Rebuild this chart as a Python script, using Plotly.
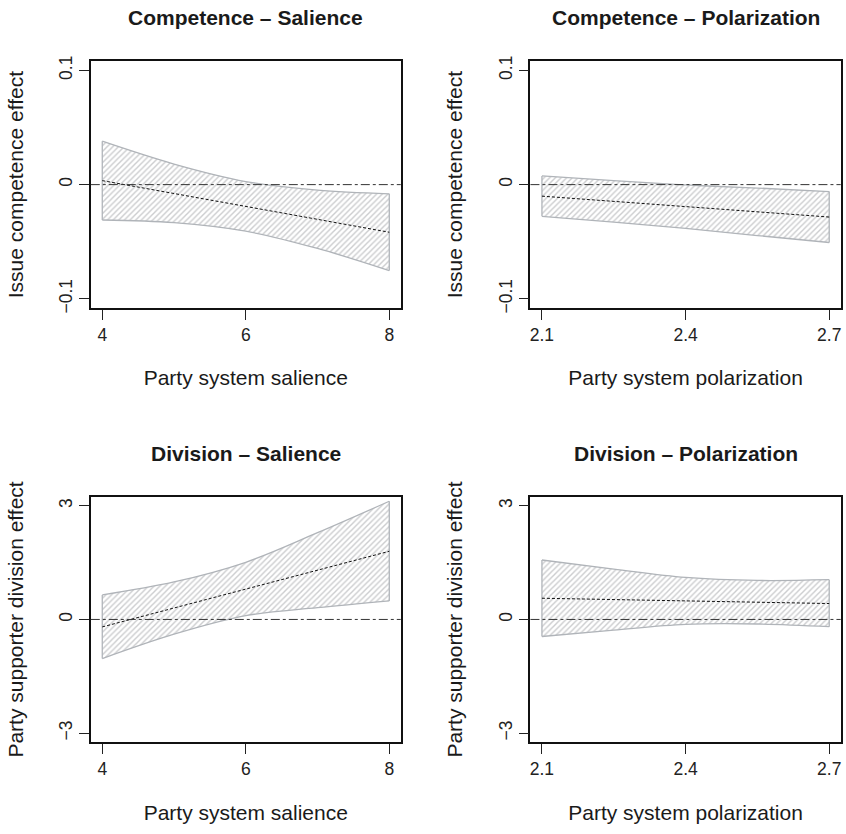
import plotly.graph_objects as go

# Moderator grids
salience = [4, 5, 6, 7, 8]
polarization = [2.1, 2.25, 2.4, 2.55, 2.7]

# Competence effect conditional on salience
comp_sal_fit = [0.0035, -0.0078, -0.019, -0.0304, -0.0417]
comp_sal_hi = [0.038, 0.018, 0.0027, -0.0049, -0.0081]
comp_sal_lo = [-0.031, -0.0333, -0.0408, -0.0559, -0.0753]

# Competence effect conditional on polarization
comp_pol_fit = [-0.0101, -0.0147, -0.0193, -0.0238, -0.0284]
comp_pol_hi = [0.0076, 0.0035, -0.0003, -0.0030, -0.0061]
comp_pol_lo = [-0.0278, -0.0329, -0.0383, -0.0446, -0.0507]

# Division effect conditional on salience
div_sal_fit = [-0.197, 0.30, 0.80, 1.30, 1.80]
div_sal_hi = [0.647, 0.99, 1.51, 2.29, 3.12]
div_sal_lo = [-1.034, -0.39, 0.10, 0.31, 0.49]

# Division effect conditional on polarization
div_pol_fit = [0.56, 0.525, 0.49, 0.455, 0.42]
div_pol_hi = [1.57, 1.33, 1.11, 1.03, 1.05]
div_pol_lo = [-0.45, -0.28, -0.13, -0.12, -0.19]

titles = ["Competence – Salience", "Competence – Polarization",
          "Division – Salience", "Division – Polarization"]
xlabels = ["Party system salience", "Party system polarization"] * 2
ylabels = ["Issue competence effect"] * 2 + ["Party supporter division effect"] * 2
xticks = [[4, 6, 8], [2.1, 2.4, 2.7]] * 2
yticks = [[-0.1, 0, 0.1]] * 2 + [[-3, 0, 3]] * 2
xranges = [[3.84, 8.16], [2.076, 2.724]] * 2
yranges = [[-0.108, 0.108]] * 2 + [[-3.24, 3.24]] * 2

panels = [
    (salience, comp_sal_fit, comp_sal_lo, comp_sal_hi),
    (polarization, comp_pol_fit, comp_pol_lo, comp_pol_hi),
    (salience, div_sal_fit, div_sal_lo, div_sal_hi),
    (polarization, div_pol_fit, div_pol_lo, div_pol_hi),
]

W, H = 846, 834
xdoms = [[90 / W, 400.7 / W], [530.7 / W, 841.7 / W]]
ydoms = [[1 - 306 / H, 1 - 56 / H], [1 - 746 / H, 1 - 497.3 / H]]

FONT = "Liberation Sans, Arial, Helvetica, sans-serif"
BAND_EDGE = "#b0b4b9"
HATCH = "#9a9c9f"

fig = go.Figure()
layout = {}
annotations = []

for i, (x, fit, lo, hi) in enumerate(panels):
    r, c = divmod(i, 2)
    xa = "x" if i == 0 else f"x{i + 1}"
    ya = "y" if i == 0 else f"y{i + 1}"
    xkey = "xaxis" if i == 0 else f"xaxis{i + 1}"
    ykey = "yaxis" if i == 0 else f"yaxis{i + 1}"

    # confidence band: lower edge then hatched fill up to the upper edge
    fig.add_trace(go.Scatter(x=x, y=lo, xaxis=xa, yaxis=ya, mode="lines",
                             line=dict(color=BAND_EDGE, width=1.3, shape="spline"),
                             hoverinfo="skip", showlegend=False))
    fig.add_trace(go.Scatter(x=x, y=hi, xaxis=xa, yaxis=ya, mode="lines",
                             line=dict(color=BAND_EDGE, width=1.3, shape="spline"),
                             fill="tonexty", fillcolor="white",
                             fillpattern=dict(shape="/", fgcolor=HATCH, bgcolor="white",
                                              size=4, solidity=0.36),
                             hoverinfo="skip", showlegend=False))
    # closing vertical edges of the band
    for k in (0, -1):
        fig.add_trace(go.Scatter(x=[x[k], x[k]], y=[lo[k], hi[k]], xaxis=xa, yaxis=ya,
                                 mode="lines", line=dict(color=BAND_EDGE, width=1.3),
                                 hoverinfo="skip", showlegend=False))
    # marginal effect estimate
    fig.add_trace(go.Scatter(x=x, y=fit, xaxis=xa, yaxis=ya, mode="lines",
                             line=dict(color="#111111", width=1, dash="3px,2px"),
                             hoverinfo="skip", showlegend=False))

    layout[xkey] = dict(domain=xdoms[c], anchor=ya, range=xranges[i],
                        tickvals=xticks[i], ticks="outside", ticklen=10, tickwidth=1,
                        tickcolor="#222", showline=True, mirror=True, linecolor="#111",
                        linewidth=1.6, showgrid=False, zeroline=False,
                        tickfont=dict(size=17.5, color="#222", family=FONT),
                        title=dict(text=xlabels[i], standoff=27,
                                   font=dict(size=21, color="#1a1a1a", family=FONT)))
    layout[ykey] = dict(domain=ydoms[r], anchor=xa, range=yranges[i],
                        tickvals=yticks[i], ticks="outside", ticklen=10, tickwidth=1,
                        tickcolor="#222", tickangle=-90, showline=True, mirror=True,
                        linecolor="#111", linewidth=1.6, showgrid=False, zeroline=False,
                        tickfont=dict(size=17.5, color="#222", family=FONT),
                        title=dict(text=ylabels[i], standoff=27,
                                   font=dict(size=21, color="#1a1a1a", family=FONT)))

    # reference line at zero effect
    fig.add_shape(type="line", xref=f"{xa} domain", yref=ya, x0=0, x1=1, y0=0, y1=0,
                  line=dict(color="#333", width=1, dash="dashdot"), layer="above")

    annotations.append(dict(text=f"<b>{titles[i]}</b>", xref="paper", yref="paper",
                            x=sum(xdoms[c]) / 2, y=ydoms[r][1] + 44 / H,
                            xanchor="center", yanchor="middle", showarrow=False,
                            font=dict(size=21, color="#1a1a1a", family=FONT)))

fig.update_layout(width=W, height=H, margin=dict(l=0, r=0, t=0, b=0),
                  paper_bgcolor="white", plot_bgcolor="white",
                  annotations=annotations, **layout)

fig.write_html("out.html")
